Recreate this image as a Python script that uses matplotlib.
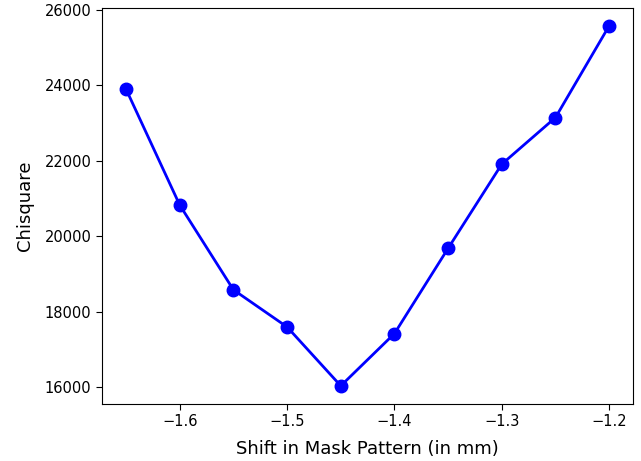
import matplotlib
matplotlib.use("Agg")
import matplotlib.pyplot as plt

shift_mm = [-1.65, -1.60, -1.55, -1.50, -1.45, -1.40, -1.35, -1.30, -1.25, -1.20]
chisquare = [23895, 20825, 18580, 17595, 16035, 17420, 19680, 21910, 23145, 25575]

fig = plt.figure(figsize=(6.41, 4.61), dpi=100)
ax = fig.add_axes([0.159, 0.124, 0.829, 0.859])
ax.plot(shift_mm, chisquare, "-o", color="blue", linewidth=2, markersize=9)
ax.set_xlabel("Shift in Mask Pattern (in mm)", fontsize=13, labelpad=7.5)
ax.set_ylabel("Chisquare", fontsize=13, labelpad=8)
ax.tick_params(labelsize=10.5, length=4)
fig.savefig("out.png", dpi=100)
